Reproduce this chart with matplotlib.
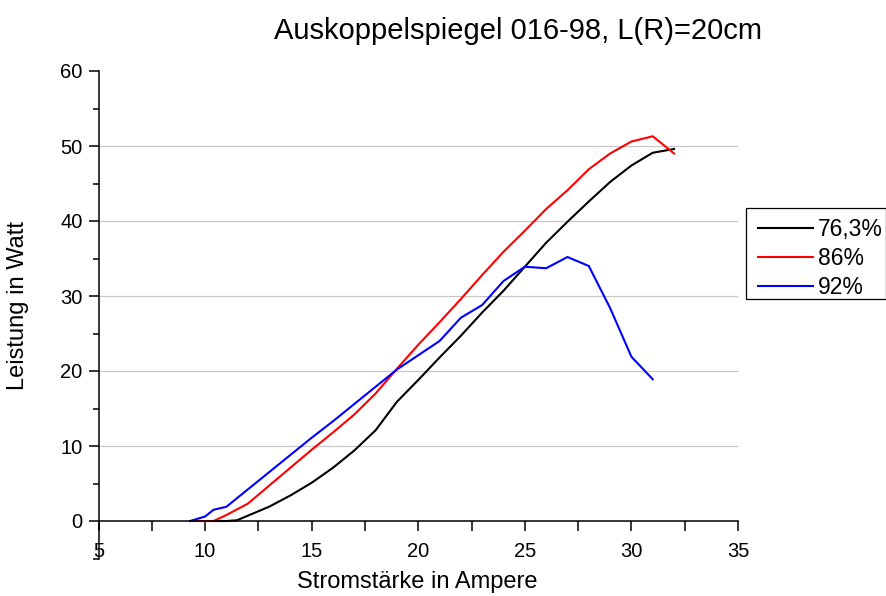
import matplotlib
matplotlib.use("Agg")
import matplotlib.pyplot as plt
from matplotlib.ticker import MultipleLocator
from matplotlib.patches import Rectangle

plt.rcParams['font.family'] = ['Liberation Sans', 'DejaVu Sans']

title = "Auskoppelspiegel 016-98, L(R)=20cm"
xlabel = "Stromstärke in Ampere"
ylabel = "Leistung in Watt"
labels = ["76,3%", "86%", "92%"]

x_763 = [10.4, 11, 11.5, 12, 13, 14, 15, 16, 17, 18, 19, 20, 21, 22, 23, 24, 25, 26, 27, 28, 29, 30, 31, 32]
y_763 = [0, 0, 0.1, 0.7, 1.9, 3.4, 5.1, 7.1, 9.4, 12.1, 15.9, 18.8, 21.8, 24.7, 27.8, 30.7, 33.9, 37.1, 39.9, 42.6, 45.2, 47.4, 49.1, 49.6]

x_86 = [9.3, 10, 10.4, 11, 12, 13, 14, 15, 16, 17, 18, 19, 20, 21, 22, 23, 24, 25, 26, 27, 28, 29, 30, 31, 32]
y_86 = [0, 0, 0, 0.8, 2.3, 4.7, 7.1, 9.5, 11.8, 14.2, 17.0, 20.3, 23.5, 26.5, 29.6, 32.8, 35.9, 38.7, 41.6, 44.1, 46.9, 49.0, 50.6, 51.3, 49.0]

x_92 = [9.3, 10, 10.4, 11, 12, 13, 14, 15, 16, 17, 18, 19, 20, 21, 22, 23, 24, 25, 26, 27, 28, 29, 30, 31]
y_92 = [0, 0.6, 1.5, 1.9, 4.2, 6.5, 8.8, 11.1, 13.3, 15.6, 17.9, 20.2, 22.1, 24.0, 27.1, 28.8, 32.0, 33.9, 33.7, 35.2, 34.0, 28.4, 21.9, 18.9]

colors = ["#000000", "#ff0000", "#0000ff"]

W, H = 886, 596
fig = plt.figure(figsize=(W / 100, H / 100), dpi=100)
ax = fig.add_axes([98.5 / W, 1 - 558.5 / H, (738 - 98.5) / W, (558.5 - 71) / H])

for xs, ys, c, lab in zip([x_763, x_86, x_92], [y_763, y_86, y_92], colors, labels):
    ax.plot(xs, ys, color=c, lw=1.5, label=lab, solid_joinstyle='miter')

ax.set_xlim(5, 35)
ax.set_ylim(-5, 60)
ax.spines['top'].set_visible(False)
ax.spines['right'].set_visible(False)
ax.spines['bottom'].set_position(('data', 0))
for s in ('left', 'bottom'):
    ax.spines[s].set_linewidth(1.1)

ax.xaxis.set_major_locator(MultipleLocator(5))
ax.xaxis.set_minor_locator(MultipleLocator(2.5))
ax.yaxis.set_major_locator(MultipleLocator(10))
ax.yaxis.set_minor_locator(MultipleLocator(5))
ax.tick_params(axis='x', which='major', direction='out', length=7, width=1.1, pad=8, labelsize=14.5)
ax.tick_params(axis='x', which='minor', direction='out', length=7, width=1.1)
ax.tick_params(axis='y', which='major', direction='out', length=7.5, width=1.1, pad=4, labelsize=14.5)
ax.tick_params(axis='y', which='minor', direction='out', length=4, width=1.1)

ax.yaxis.grid(True, which='major', color='#c8c8c8', lw=0.9)
ax.set_axisbelow(True)
for t, gl in zip(ax.get_yticks(), ax.get_ygridlines()):
    if t <= 0 or t >= 60:
        gl.set_visible(False)

fig.text(518 / W, 1 - 31 / H, title, ha='center', va='center', fontsize=21)
fig.text(417 / W, 1 - 582 / H, xlabel, ha='center', va='center', fontsize=17)
fig.text(18 / W, 1 - 305 / H, ylabel, ha='center', va='center', rotation=90, fontsize=17)

# legend entries (frame drawn separately so it can sit flush with the figure edge)
fig.legend(loc='upper left', bbox_to_anchor=(758 / W, 1 - 218 / H), fontsize=16.5,
           frameon=False, borderaxespad=0, handlelength=2.4,
           handletextpad=0.22, labelspacing=0.27, borderpad=0)
fig.patches.append(Rectangle((746 / W, 1 - 299 / H), (885.5 - 746) / W, (299 - 208) / H,
                             transform=fig.transFigure, fill=False, edgecolor='black',
                             linewidth=0.9))

fig.savefig("out.png", dpi=100)
